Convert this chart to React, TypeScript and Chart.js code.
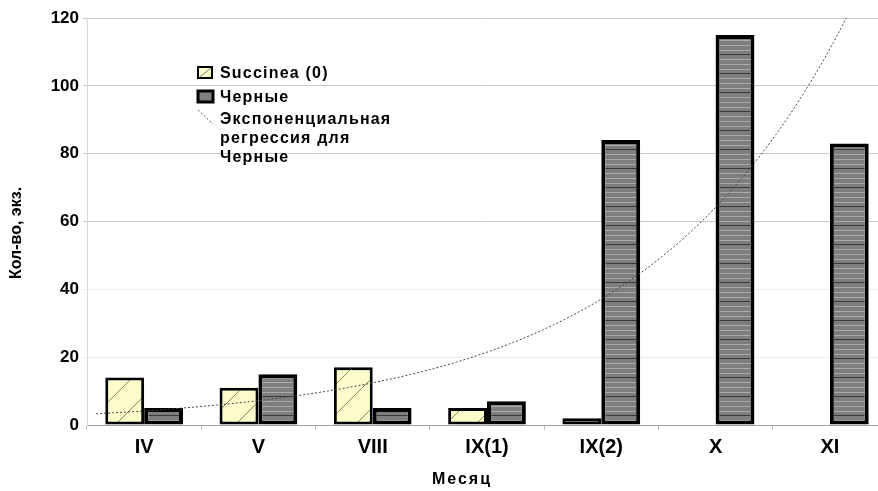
import React, { useEffect, useRef } from 'react';
import { Chart, registerables } from 'chart.js';

Chart.register(...registerables);

// ---- data ----
const months = ['IV', 'V', 'VIII', 'IX(1)', 'IX(2)', 'X', 'XI'];
const succineaValues = [14, 11, 17, 5, 2, 0, 0];
const blackValues = [5, 15, 5, 7, 84, 115, 83];
const yTicks = [0, 20, 40, 60, 80, 100, 120];
const succineaLabel = 'Succinea (0)';
const blackLabel = 'Черные';
const trendLabelLines = ['Экспоненциальная', 'регрессия для', 'Черные'];
const yTitle = 'Кол-во, экз.';
const xTitle = 'Месяц';

const FONT = "Arial, 'Liberation Sans', sans-serif";

// exponential least-squares fit (as a spreadsheet trendline does) from the series
function expFit(ys: number[]) {
  const xs = ys.map((_, i) => i);
  const ls = ys.map((y) => Math.log(y));
  const n = ys.length;
  const mx = xs.reduce((a, b) => a + b, 0) / n;
  const ml = ls.reduce((a, b) => a + b, 0) / n;
  let sxy = 0;
  let sxx = 0;
  for (let i = 0; i < n; i++) {
    sxy += (xs[i] - mx) * (ls[i] - ml);
    sxx += (xs[i] - mx) * (xs[i] - mx);
  }
  const b = sxy / sxx;
  const a = Math.exp(ml - b * mx);
  return { a, b };
}

function makeYellowPattern(ctx: CanvasRenderingContext2D) {
  const s = 30;
  const c = document.createElement('canvas');
  c.width = s;
  c.height = s;
  const g = c.getContext('2d')!;
  g.fillStyle = '#fdfccb';
  g.fillRect(0, 0, s, s);
  g.strokeStyle = 'rgba(70,70,40,0.8)';
  g.lineWidth = 0.8;
  g.beginPath();
  g.moveTo(0, s);
  g.lineTo(s, 0);
  g.stroke();
  return ctx.createPattern(c, 'repeat')!;
}

function makeGrayPattern(ctx: CanvasRenderingContext2D) {
  const w = 8;
  const h = 19;
  const c = document.createElement('canvas');
  c.width = w;
  c.height = h;
  const g = c.getContext('2d')!;
  g.fillStyle = '#7e7e7e';
  g.fillRect(0, 0, w, h);
  g.fillStyle = '#a8a8a8';
  [2, 7, 12].forEach((r) => g.fillRect(0, r, w, 1));
  g.fillStyle = '#3a3a3a';
  [16].forEach((r) => g.fillRect(0, r, w, 1));
  return ctx.createPattern(c, 'repeat')!;
}

export default function App() {
  const ref = useRef<HTMLCanvasElement>(null);

  useEffect(() => {
    const canvas = ref.current!;
    const ctx = canvas.getContext('2d')!;
    const yellow = makeYellowPattern(ctx);
    const gray = makeGrayPattern(ctx);
    const fit = expFit(blackValues);

    // trendline drawn through the chart's own x/y scales
    const trendPlugin = {
      id: 'trend',
      afterDatasetsDraw(chart: any) {
        const c: CanvasRenderingContext2D = chart.ctx;
        const xs = chart.scales.x;
        const ys = chart.scales.y;
        const p0 = xs.getPixelForValue(0);
        const step = xs.getPixelForValue(1) - p0;
        const area = chart.chartArea;
        c.save();
        c.beginPath();
        c.rect(area.left, area.top, area.right - area.left, area.bottom - area.top);
        c.clip();
        c.strokeStyle = '#444';
        c.lineWidth = 1;
        c.setLineDash([2, 2]);
        c.beginPath();
        for (let k = 0; k <= 140; k++) {
          const t = -0.42 + k * 0.05;
          const px = p0 + t * step;
          const py = ys.getPixelForValue(fit.a * Math.exp(fit.b * t));
          if (k === 0) c.moveTo(px, py);
          else c.lineTo(px, py);
        }
        c.stroke();
        c.restore();
      },
    };

    const overlay = {
      id: 'overlay',
      afterDraw(chart: any) {
        const c: CanvasRenderingContext2D = chart.ctx;
        c.save();
        // axis titles
        c.fillStyle = '#000';
        c.font = `bold 16px ${FONT}`;
        c.textAlign = 'center';
        c.textBaseline = 'middle';
        c.save();
        c.translate(17, 233);
        c.rotate(-Math.PI / 2);
        c.fillText(yTitle, 0, 0);
        c.restore();
        c.font = `bold 16px ${FONT}`;
        (c as any).letterSpacing = '2px';
        c.fillText(xTitle, 462, 480);
        (c as any).letterSpacing = '1.2px';

        // legend
        c.fillStyle = '#fdfccb';
        c.fillRect(198, 67, 14, 11);
        c.strokeStyle = '#000';
        c.lineWidth = 2;
        c.strokeRect(198, 67, 14, 11);
        c.lineWidth = 0.8;
        c.strokeStyle = '#555';
        c.beginPath();
        c.moveTo(200, 77);
        c.lineTo(211, 68);
        c.stroke();
        c.fillStyle = '#7e7e7e';
        c.fillRect(198, 91, 15, 11);
        c.strokeStyle = '#000';
        c.lineWidth = 3;
        c.strokeRect(198, 91, 15, 11);
        c.strokeStyle = '#555';
        c.lineWidth = 1;
        c.setLineDash([2, 2]);
        c.beginPath();
        c.moveTo(198, 110);
        c.lineTo(213, 124);
        c.stroke();
        c.setLineDash([]);

        c.fillStyle = '#000';
        c.font = `bold 16px ${FONT}`;
        c.textAlign = 'left';
        c.textBaseline = 'alphabetic';
        c.fillText(succineaLabel, 220, 78);
        c.fillText(blackLabel, 220, 102);
        trendLabelLines.forEach((t, i) => c.fillText(t, 220, 124 + i * 19));
        c.restore();
      },
    };

    const chart = new Chart(ctx, {
      type: 'bar',
      data: {
        labels: months,
        datasets: [
          {
            label: succineaLabel,
            data: succineaValues,
            backgroundColor: yellow,
            borderColor: '#000',
            borderWidth: 3,
            borderSkipped: false,
            categoryPercentage: 0.68,
            barPercentage: 1,
          },
          {
            label: blackLabel,
            data: blackValues,
            backgroundColor: gray,
            borderColor: '#000',
            borderWidth: 4,
            borderSkipped: false,
            categoryPercentage: 0.68,
            barPercentage: 1,
          },
        ],
      },
      options: {
        responsive: false,
        animation: false,
        devicePixelRatio: 1,
        layout: { padding: { top: 18, right: 13, left: 0, bottom: 0 } },
        plugins: { legend: { display: false }, tooltip: { enabled: false } },
        scales: {
          x: {
            type: 'category',
            offset: true,
            afterFit: (s: any) => {
              s.height = 66;
            },
            grid: {
              drawOnChartArea: false,
              drawTicks: true,
              tickLength: 5,
              color: '#c0c0c0',
              offset: true,
            },
            border: { color: '#a0a0a0', width: 1 },
            ticks: {
              color: '#000',
              font: { family: FONT, size: 20, weight: 'bold' },
              padding: 5,
              maxRotation: 0,
              autoSkip: false,
            },
          },
          y: {
            min: 0,
            max: 120,
            afterFit: (s: any) => {
              s.width = 87;
            },
            afterBuildTicks: (s: any) => {
              s.ticks = yTicks.map((v) => ({ value: v }));
            },
            grid: {
              color: (c: any) => (c.tick && c.tick.value >= 60 ? '#c8c8c8' : '#ececec'),
              tickLength: 4,
            },
            border: { color: '#d8d8d8', width: 1 },
            ticks: {
              color: '#000',
              font: { family: FONT, size: 17, weight: 'bold' },
              padding: 4,
            },
          },
        },
      },
      plugins: [trendPlugin, overlay],
    });
    return () => chart.destroy();
  }, []);

  return (
    <div
      style={{
        position: 'fixed',
        left: 0,
        top: 0,
        width: 878,
        height: 491,
        overflow: 'hidden',
        background: '#fff',
      }}
    >
      <canvas ref={ref} width={900} height={491} style={{ display: 'block' }} />
    </div>
  );
}
